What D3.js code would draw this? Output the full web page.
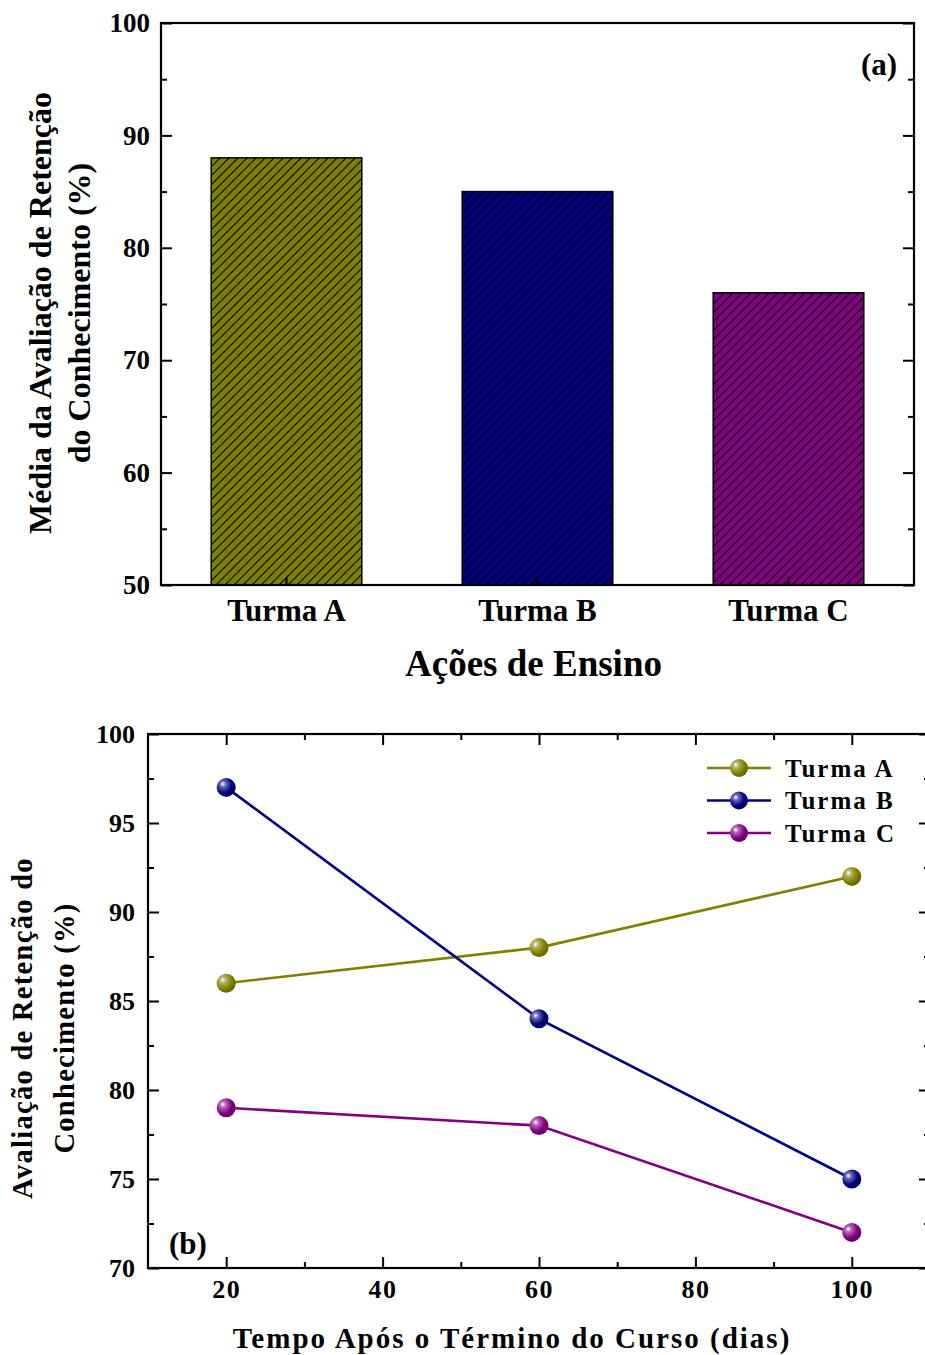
<!DOCTYPE html>
<meta charset="utf-8">
<style>
body { margin: 0; background: #fff; }
svg text { font-family: "Liberation Serif", "Times New Roman", serif; font-weight: bold; fill: #000; }
.frame { fill: none; stroke: #000; stroke-width: 2.2px; }
.tick line { stroke: #000; stroke-width: 2px; }
</style>
<svg width="925" height="1355"></svg>
<script src="https://cdn.jsdelivr.net/npm/d3@7"></script>
<script>
// panel (a) data
var turmas = ["Turma A", "Turma B", "Turma C"];
var mediaRetencao = [88, 85, 76];
var barColors = ["#808000", "#000080", "#800080"];
var yTicksA = [50, 60, 70, 80, 90, 100];

// panel (b) data
var dias = [20, 60, 100];
var turmaA = [86, 88, 92];
var turmaB = [97, 84, 75];
var turmaC = [79, 78, 72];
var xTicksB = [20, 40, 60, 80, 100];
var yTicksB = [70, 75, 80, 85, 90, 95, 100];

var svg = d3.select("svg");
var defs = svg.append("defs");

// hatch patterns
barColors.forEach(function(c, i) {
  var p = defs.append("pattern")
    .attr("id", "hatch" + i)
    .attr("patternUnits", "userSpaceOnUse")
    .attr("width", 9).attr("height", 9);
  p.append("rect").attr("width", 9).attr("height", 9).attr("fill", c);
  p.append("path")
    .attr("d", "M-1,1 l2,-2 M0,9 l9,-9 M8,10 l2,-2")
    .attr("stroke", "#000").attr("stroke-width", 1.1);
});

// sphere gradients
barColors.forEach(function(c, i) {
  var g = defs.append("radialGradient")
    .attr("id", "ball" + i)
    .attr("cx", "35%").attr("cy", "35%").attr("r", "65%")
    .attr("fx", "32%").attr("fy", "32%");
  g.append("stop").attr("offset", "0%").attr("stop-color", "#fff");
  g.append("stop").attr("offset", "25%").attr("stop-color", d3.interpolateRgb("#fff", c)(0.6));
  g.append("stop").attr("offset", "70%").attr("stop-color", c);
  g.append("stop").attr("offset", "100%").attr("stop-color", d3.color(c).darker(0.6));
});

// ---------- panel (a) ----------
var ax0 = 161, ax1 = 914, ay0 = 23, ay1 = 585;
var xa = d3.scaleBand().domain(turmas).range([ax0, ax1]).paddingInner(0.4).paddingOuter(0.2);
var ya = d3.scaleLinear().domain([50, 100]).range([ay1, ay0]);

var ga = svg.append("g");

ga.selectAll(".bar")
  .data(mediaRetencao)
  .enter().append("rect")
    .attr("class", "bar")
    .attr("x", function(d, i) { return xa(turmas[i]); })
    .attr("y", function(d) { return ya(d); })
    .attr("width", xa.bandwidth())
    .attr("height", function(d) { return ya(50) - ya(d); })
    .attr("fill", function(d, i) { return "url(#hatch" + i + ")"; })
    .attr("stroke", "#000").attr("stroke-width", 1.5);

// minor ticks left/right
var minorA = d3.range(55, 100, 10);
ga.append("g").attr("transform", "translate(" + ax0 + ",0)")
  .call(d3.axisRight(ya).tickValues(minorA).tickSize(6).tickFormat(""))
  .call(function(g) { g.select(".domain").remove(); });
ga.append("g").attr("transform", "translate(" + ax1 + ",0)")
  .call(d3.axisLeft(ya).tickValues(minorA).tickSize(6).tickFormat(""))
  .call(function(g) { g.select(".domain").remove(); });
ga.append("g").attr("transform", "translate(" + ax1 + ",0)")
  .call(d3.axisLeft(ya).tickValues(yTicksA).tickSize(11).tickFormat(""))
  .call(function(g) { g.select(".domain").remove(); });

// left axis with labels
var yAxA = ga.append("g").attr("transform", "translate(" + ax0 + ",0)")
  .call(d3.axisLeft(ya).tickValues(yTicksA).tickSize(-11).tickPadding(11));
yAxA.select(".domain").remove();
yAxA.selectAll("text").style("font-size", "27px").attr("font-family", null);

// bottom axis
var xAxA = ga.append("g").attr("transform", "translate(0," + ay1 + ")")
  .call(d3.axisBottom(xa).tickSize(-8).tickPadding(14));
xAxA.select(".domain").remove();
xAxA.selectAll("text").style("font-size", "31px").attr("dy", "0.71em").attr("font-family", null);

ga.append("rect").attr("class", "frame")
  .attr("x", ax0).attr("y", ay0).attr("width", ax1 - ax0).attr("height", ay1 - ay0);

ga.append("text").attr("x", 879).attr("y", 75).attr("text-anchor", "middle")
  .style("font-size", "31px").text("(a)");

ga.append("text").attr("x", (ax0 + ax1) / 2 - 4).attr("y", 676).attr("text-anchor", "middle")
  .style("font-size", "37px").text("Ações de Ensino");

var ytA = ga.append("text").attr("transform", "translate(0,313) rotate(-90)")
  .attr("text-anchor", "middle").style("font-size", "32px");
ytA.append("tspan").attr("x", 0).attr("y", 51).text("Média da Avaliação de Retenção");
ytA.append("tspan").attr("x", 0).attr("y", 90).text("do Conhecimento (%)");

// ---------- panel (b) ----------
var bx0 = 148, bx1 = 930, by0 = 734, by1 = 1268;
var xb = d3.scaleLinear().domain([10, 110]).range([bx0, bx1]);
var yb = d3.scaleLinear().domain([70, 100]).range([by1, by0]);

var gb = svg.append("g");

var minorXB = d3.range(30, 110, 20);
var minorYB = d3.range(72.5, 100, 5);

function noDomain(g) { g.select(".domain").remove(); }

// minor ticks
gb.append("g").attr("transform", "translate(0," + by1 + ")")
  .call(d3.axisTop(xb).tickValues(minorXB).tickSize(6).tickFormat("")).call(noDomain);
gb.append("g").attr("transform", "translate(0," + by0 + ")")
  .call(d3.axisBottom(xb).tickValues(minorXB).tickSize(6).tickFormat("")).call(noDomain);
gb.append("g").attr("transform", "translate(" + bx0 + ",0)")
  .call(d3.axisRight(yb).tickValues(minorYB).tickSize(6).tickFormat("")).call(noDomain);
gb.append("g").attr("transform", "translate(" + bx1 + ",0)")
  .call(d3.axisLeft(yb).tickValues(minorYB).tickSize(6).tickFormat("")).call(noDomain);
// major ticks top/right
gb.append("g").attr("transform", "translate(0," + by0 + ")")
  .call(d3.axisBottom(xb).tickValues(xTicksB).tickSize(11).tickFormat("")).call(noDomain);
gb.append("g").attr("transform", "translate(" + bx1 + ",0)")
  .call(d3.axisLeft(yb).tickValues(yTicksB).tickSize(11).tickFormat("")).call(noDomain);

var xAxB = gb.append("g").attr("transform", "translate(0," + by1 + ")")
  .call(d3.axisTop(xb).tickValues(xTicksB).tickSize(11).tickFormat(d3.format("d")));
xAxB.select(".domain").remove();
xAxB.selectAll("text").style("font-size", "26px").attr("font-family", null)
  .attr("y", 12).attr("dy", "0.71em").style("letter-spacing", "1.5px");

var yAxB = gb.append("g").attr("transform", "translate(" + bx0 + ",0)")
  .call(d3.axisLeft(yb).tickValues(yTicksB).tickSize(-11).tickPadding(13));
yAxB.select(".domain").remove();
yAxB.selectAll("text").style("font-size", "26px").attr("font-family", null);

gb.append("rect").attr("class", "frame")
  .attr("x", bx0).attr("y", by0).attr("width", bx1 - bx0).attr("height", by1 - by0);

var series = [
  { name: "Turma A", values: turmaA },
  { name: "Turma B", values: turmaB },
  { name: "Turma C", values: turmaC }
];

var line = d3.line()
  .x(function(d, i) { return xb(dias[i]); })
  .y(function(d) { return yb(d); });

series.forEach(function(s, k) {
  gb.append("path").datum(s.values)
    .attr("d", line)
    .attr("fill", "none")
    .attr("stroke", barColors[k]).attr("stroke-width", 2.6);
});
series.forEach(function(s, k) {
  gb.selectAll(".pt" + k).data(s.values).enter().append("circle")
    .attr("cx", function(d, i) { return xb(dias[i]); })
    .attr("cy", function(d) { return yb(d); })
    .attr("r", 9.5)
    .attr("fill", "url(#ball" + k + ")");
});

// legend
var leg = gb.append("g");
series.forEach(function(s, k) {
  var yy = 768 + k * 32.5;
  leg.append("line").attr("x1", 707).attr("x2", 771).attr("y1", yy).attr("y2", yy)
    .attr("stroke", barColors[k]).attr("stroke-width", 2.6);
  leg.append("circle").attr("cx", 739).attr("cy", yy).attr("r", 9)
    .attr("fill", "url(#ball" + k + ")");
  leg.append("text").attr("x", 785).attr("y", yy).attr("dy", "0.35em")
    .style("font-size", "25px").style("letter-spacing", "2px").text(s.name);
});

gb.append("text").attr("x", 169).attr("y", 1254)
  .style("font-size", "31px").text("(b)");

gb.append("text").attr("x", 512).attr("y", 1348).attr("text-anchor", "middle")
  .style("font-size", "29px").style("letter-spacing", "2px")
  .text("Tempo Após o Término do Curso (dias)");

var ytB = gb.append("text").attr("transform", "translate(0,1028) rotate(-90)")
  .attr("text-anchor", "middle").style("font-size", "28.5px").style("letter-spacing", "1.3px");
ytB.append("tspan").attr("x", 0).attr("y", 32).text("Avaliação de Retenção do");
ytB.append("tspan").attr("x", 0).attr("y", 74).text("Conhecimento (%)");
</script>
